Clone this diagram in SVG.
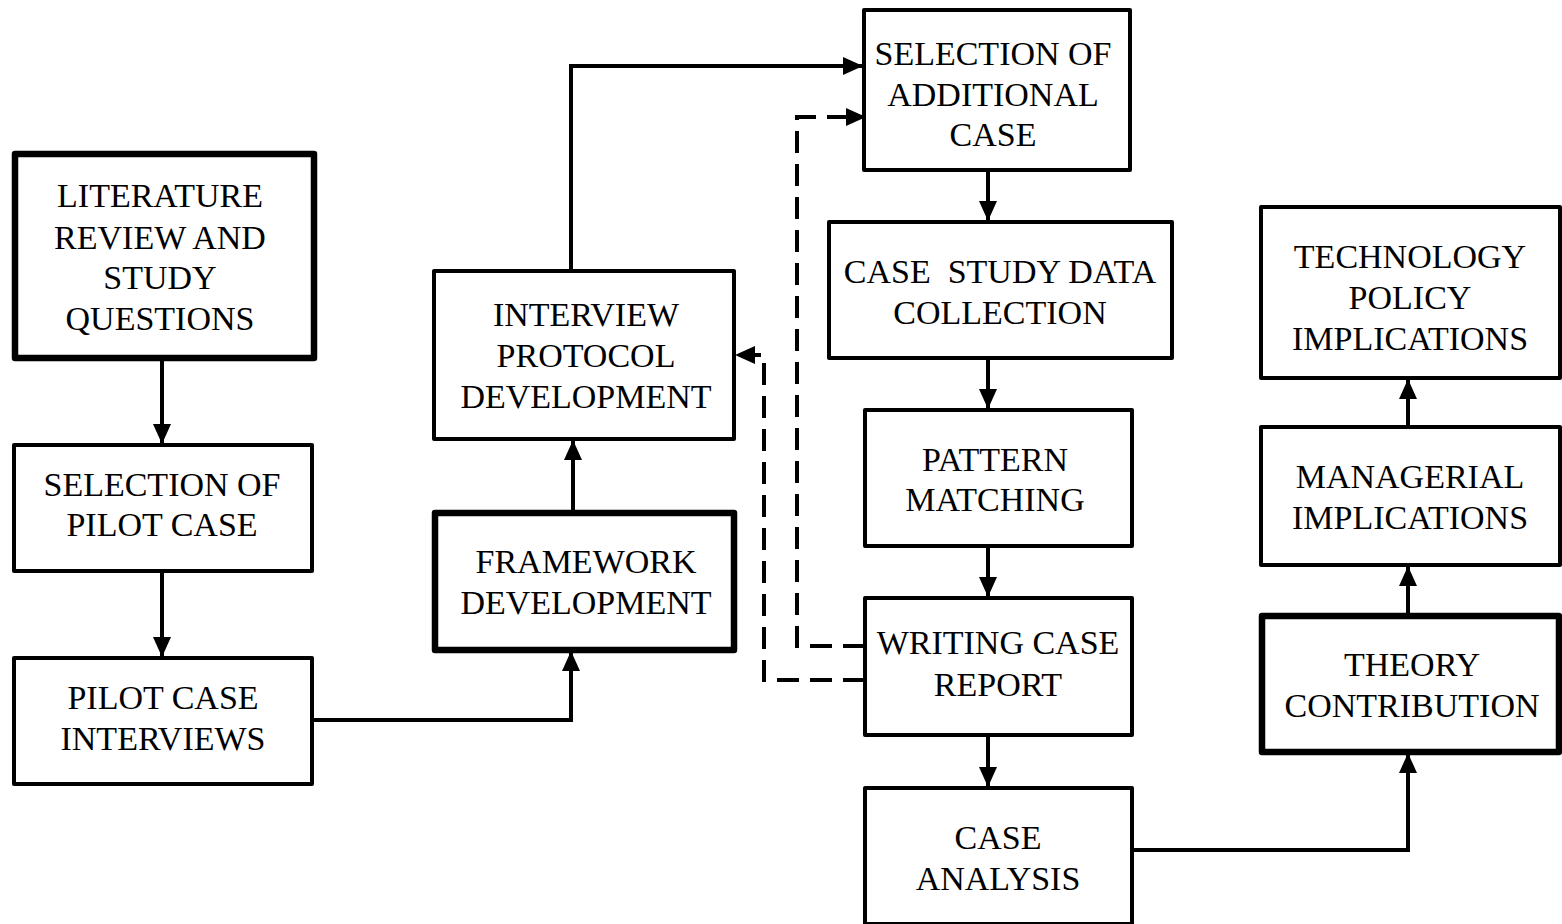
<svg xmlns="http://www.w3.org/2000/svg" width="1562" height="924" viewBox="0 0 1562 924">
<style>
.box{fill:#fff;stroke:#000;stroke-width:4;stroke-linejoin:round}
.thick{stroke-width:6.5}
.t{font-family:"Liberation Serif","Times New Roman",serif;font-size:34px;fill:#000;text-anchor:middle;white-space:pre}
.c{fill:none;stroke:#000;stroke-width:4}
.d{stroke-dasharray:22,11}
</style>
<defs>
<marker id="ah" markerUnits="userSpaceOnUse" markerWidth="20" markerHeight="18" refX="20" refY="9" orient="auto">
<path d="M0,0 L20,9 L0,18 Z" fill="#000"/>
</marker>
</defs>
<g id="connectors">
<line class="c" x1="162" y1="358" x2="162" y2="444" marker-end="url(#ah)"/>
<line class="c" x1="162" y1="571" x2="162" y2="657" marker-end="url(#ah)"/>
<polyline class="c" points="312,720 571,720 571,651" marker-end="url(#ah)"/>
<line class="c" x1="573" y1="512" x2="573" y2="440" marker-end="url(#ah)"/>
<polyline class="c" points="571,271 571,66 863,66" marker-end="url(#ah)"/>
<line class="c" x1="988" y1="170" x2="988" y2="221" marker-end="url(#ah)"/>
<line class="c" x1="988" y1="358" x2="988" y2="409" marker-end="url(#ah)"/>
<line class="c" x1="988" y1="546" x2="988" y2="597" marker-end="url(#ah)"/>
<line class="c" x1="988" y1="735" x2="988" y2="787" marker-end="url(#ah)"/>
<polyline class="c" points="1132,850 1408,850 1408,753" marker-end="url(#ah)"/>
<line class="c" x1="1408" y1="615" x2="1408" y2="566" marker-end="url(#ah)"/>
<line class="c" x1="1408" y1="427" x2="1408" y2="379" marker-end="url(#ah)"/>
<polyline class="c d" points="865,646 797,646 797,117 866,117" marker-end="url(#ah)"/>
<polyline class="c d" points="865,680 764,680 764,355 735,355" marker-end="url(#ah)"/>
</g>
<g id="literature">
<rect class="box thick" x="15" y="154" width="299" height="204"/>
<text class="t" x="160" y="207">LITERATURE</text>
<text class="t" x="160" y="249">REVIEW AND</text>
<text class="t" x="160" y="289">STUDY</text>
<text class="t" x="160" y="330">QUESTIONS</text>
</g>
<g id="selection-pilot">
<rect class="box" x="14" y="445" width="298" height="126"/>
<text class="t" x="162" y="496">SELECTION OF</text>
<text class="t" x="162" y="536">PILOT CASE</text>
</g>
<g id="pilot-interviews">
<rect class="box" x="14" y="658" width="298" height="126"/>
<text class="t" x="163" y="709">PILOT CASE</text>
<text class="t" x="163" y="750">INTERVIEWS</text>
</g>
<g id="framework">
<rect class="box thick" x="435" y="513" width="299" height="137"/>
<text class="t" x="586" y="573">FRAMEWORK</text>
<text class="t" x="586" y="614">DEVELOPMENT</text>
</g>
<g id="interview-protocol">
<rect class="box" x="434" y="271" width="300" height="168"/>
<text class="t" x="586" y="326">INTERVIEW</text>
<text class="t" x="586" y="367">PROTOCOL</text>
<text class="t" x="586" y="408">DEVELOPMENT</text>
</g>
<g id="selection-additional">
<rect class="box" x="864" y="10" width="266" height="160"/>
<text class="t" x="993" y="65">SELECTION OF</text>
<text class="t" x="993" y="106">ADDITIONAL</text>
<text class="t" x="993" y="146">CASE</text>
</g>
<g id="data-collection">
<rect class="box" x="829" y="222" width="343" height="136"/>
<text class="t" x="1000" y="283">CASE  STUDY DATA</text>
<text class="t" x="1000" y="324">COLLECTION</text>
</g>
<g id="pattern-matching">
<rect class="box" x="865" y="410" width="267" height="136"/>
<text class="t" x="995" y="471">PATTERN</text>
<text class="t" x="995" y="511">MATCHING</text>
</g>
<g id="writing-report">
<rect class="box" x="865" y="598" width="267" height="137"/>
<text class="t" x="998" y="654">WRITING CASE</text>
<text class="t" x="998" y="696">REPORT</text>
</g>
<g id="case-analysis">
<rect class="box" x="865" y="788" width="267" height="136"/>
<text class="t" x="998" y="849">CASE</text>
<text class="t" x="998" y="890">ANALYSIS</text>
</g>
<g id="technology-policy">
<rect class="box" x="1261" y="207" width="299" height="171"/>
<text class="t" x="1410" y="268">TECHNOLOGY</text>
<text class="t" x="1410" y="309">POLICY</text>
<text class="t" x="1410" y="350">IMPLICATIONS</text>
</g>
<g id="managerial">
<rect class="box" x="1261" y="427" width="299" height="138"/>
<text class="t" x="1410" y="488">MANAGERIAL</text>
<text class="t" x="1410" y="529">IMPLICATIONS</text>
</g>
<g id="theory">
<rect class="box thick" x="1262" y="616" width="297" height="136"/>
<text class="t" x="1412" y="676">THEORY</text>
<text class="t" x="1412" y="717">CONTRIBUTION</text>
</g>
</svg>
